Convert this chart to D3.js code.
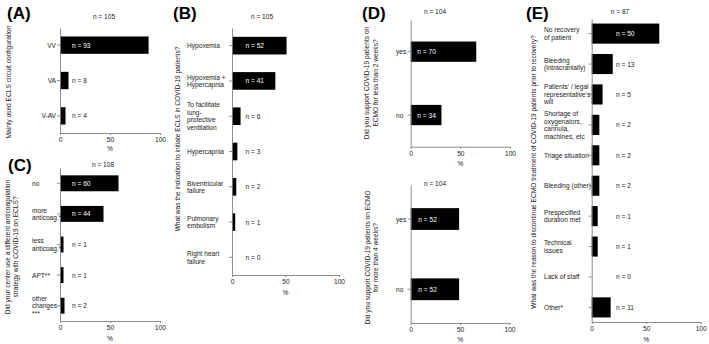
<!DOCTYPE html>
<html><head><meta charset="utf-8">
<script src="https://cdn.jsdelivr.net/npm/d3@7"></script>
<style>
body{margin:0;background:#fff;}
svg{display:block;font-family:"Liberation Sans",Arial,sans-serif;}
</style></head><body>
<svg id="chart" width="709" height="344"></svg>
<script>
// ---------- DATA ----------
const xTickValues = [0, 50, 100];

const aCategories = ["VV", "VA", "V-AV"];
const aCounts = [93, 8, 4];
const aPercent = [88.6, 8.5, 5.5];
const aTotal = 105;

const bCategories = ["Hypoxemia", "Hypoxemia +\nHypercapnia", "To facilitate\nlung-\nprotective\nventilation", "Hypercapnia", "Biventricular\nfailure", "Pulmonary\nembolism", "Right heart\nfailure"];
const bCounts = [52, 41, 6, 3, 2, 1, 0];
const bPercent = [51, 40.5, 8, 5, 4, 3, 0];
const bTotal = 105;

const cCategories = ["no", "more\nanticoag.*", "less\nanticoag.*", "APT**", "other\nchanges\n***"];
const cCounts = [60, 44, 1, 1, 2];
const cPercent = [58.5, 43.5, 3.5, 3.5, 4.5];
const cTotal = 108;

const d1Categories = ["yes", "no"];
const d1Counts = [70, 34];
const d1Percent = [66, 31];
const d1Total = 104;

const d2Categories = ["yes", "no"];
const d2Counts = [52, 52];
const d2Percent = [49, 49];
const d2Total = 104;

const eCategories = ["No recovery\nof patient", "Bleeding\n(intracranially)", "Patients' / legal\nrepresentative's\nwill", "Shortage of\noxygenators,\ncannula,\nmachines, etc", "Triage situation", "Bleeding (other)", "Prespecified\nduration met", "Technical\nissues", "Lack of staff", "Other*"];
const eCounts = [50, 13, 5, 2, 2, 2, 1, 1, 0, 11];
const ePercent = [62, 19.3, 10, 7, 7, 7, 5.5, 5.5, 0, 17.4];
const eTotal = 87;

const panelLetters = ["(A)", "(B)", "(C)", "(D)", "(E)"];

// ---------- LAYOUT ----------
const FS = 6.6, LH = 7.5;
const svg = d3.select("#chart");

const panels = [
  {cats: aCategories, counts: aCounts, pct: aPercent, total: aTotal,
   x0: 60, x1: 160, yTop: 28, yBot: 133, pi: 0.51, po: 0.24,
   labX: 56, labAnchor: "end", nOff: 12, nX: 104, nY: 16,
   title: ["Mainly used ECLS circuit configuration"], titleX: [8], titleY: 82, pctY: 148},
  {cats: bCategories, counts: bCounts, pct: bPercent, total: bTotal,
   x0: 232, x1: 339, yTop: 28, yBot: 275, pi: 0.5, po: 0.25,
   labX: 187, labAnchor: "start", nOff: 13.5, nX: 262, nY: 16,
   title: ["What was the indication to initiate ECLS in COVID-19 patients?"], titleX: [177], titleY: 139, pctY: 292},
  {cats: cCategories, counts: cCounts, pct: cPercent, total: cTotal,
   x0: 60, x1: 160, yTop: 168, yBot: 321, pi: 0.48, po: 0.24,
   labX: 32, labAnchor: "start", nOff: 12, nX: 103, nY: 164,
   title: ["Did your center use a different anticoagulation", "strategy with COVID-19 on ECLS?"], titleX: [7, 15.5], titleY: 247, pctY: 338},
  {cats: d1Categories, counts: d1Counts, pct: d1Percent, total: d1Total,
   x0: 410.7, x1: 510, yTop: 20, yBot: 146.7, pi: 0.68, po: 0.34,
   labX: 396, labAnchor: "start", nOff: 6.6, nX: 435, nY: 11,
   title: ["Did you support COVID-19 patients on", "ECMO for less than 2 weeks?"], titleX: [366.7, 375], titleY: 83, pctY: 163},
  {cats: d2Categories, counts: d2Counts, pct: d2Percent, total: d2Total,
   x0: 410.7, x1: 509.5, yTop: 185.3, yBot: 323, pi: 0.69, po: 0.325,
   labX: 396, labAnchor: "start", nOff: 7.6, nX: 435, nY: 183,
   title: ["Did you support COVID-19 patients on ECMO", "for more than 4 weeks?"], titleX: [367.3, 375.7], titleY: 257.5, pctY: 339.7},
  {cats: eCategories, counts: eCounts, pct: ePercent, total: eTotal,
   x0: 591.7, x1: 700.7, yTop: 19, yBot: 322, pi: 0.34, po: 0.15,
   labX: 544, labAnchor: "start", nOff: 24.3, nX: 620, nY: 11,
   title: ["What was the reason to discontinue ECMO treatment of COVID-19 patients prior to recovery?"], titleX: [533], titleY: 172, pctY: 339.3}
];

const letterPos = [[7, 19], [173, 19], [8, 171], [362, 19], [526, 19]];

panels.forEach(p => {
  const g = svg.append("g");
  const x = d3.scaleLinear().domain([0, 100]).range([p.x0, p.x1]);
  const y = d3.scaleBand().domain(p.cats).range([p.yTop, p.yBot]).paddingInner(p.pi).paddingOuter(p.po);

  // bars
  g.selectAll("rect.bar").data(p.cats).join("rect")
    .attr("x", x(0)).attr("y", d => y(d))
    .attr("width", (d, i) => x(p.pct[i]) - x(0))
    .attr("height", y.bandwidth()).attr("fill", "#000");

  // y axis
  const ya = g.append("g").attr("transform", `translate(${p.x0},0)`)
    .call(d3.axisLeft(y).tickSize(3).tickSizeOuter(0).tickFormat(() => ""));
  ya.selectAll("path,line").attr("stroke", "#808080").attr("stroke-width", 0.9);

  // x axis
  const xa = g.append("g").attr("transform", `translate(0,${p.yBot})`)
    .call(d3.axisBottom(x).tickValues(xTickValues).tickSize(2).tickSizeOuter(0).tickPadding(2.5));
  xa.selectAll("path,line").attr("stroke", "#808080").attr("stroke-width", 0.9);
  xa.selectAll("text").attr("font-size", FS).attr("fill", "#222").attr("font-family", null);

  g.append("text").attr("x", x(50)).attr("y", p.pctY).attr("text-anchor", "middle")
    .attr("dominant-baseline", "central").attr("font-size", FS).attr("fill", "#222").text("%");

  // category labels
  p.cats.forEach(c => {
    const lines = c.split("\n");
    const cy = y(c) + y.bandwidth() / 2;
    const t = g.append("text").attr("text-anchor", p.labAnchor).attr("font-size", FS).attr("fill", "#222");
    lines.forEach((ln, k) => {
      t.append("tspan").attr("x", p.labX)
        .attr("y", cy + (k - (lines.length - 1) / 2) * LH)
        .attr("dominant-baseline", "central").text(ln);
    });
  });

  // n labels
  p.cats.forEach((c, i) => {
    const lx = p.x0 + p.nOff;
    const t = g.append("text").attr("x", lx).attr("y", y(c) + y.bandwidth() / 2)
      .attr("dominant-baseline", "central").attr("font-size", FS).text("n = " + p.counts[i]);
    const w = t.node().getComputedTextLength();
    t.attr("fill", (x(p.pct[i]) > lx + w) ? "#fff" : "#222");
  });

  // total
  g.append("text").attr("x", p.nX).attr("y", p.nY).attr("text-anchor", "middle")
    .attr("dominant-baseline", "central").attr("font-size", FS).attr("fill", "#222").text("n = " + p.total);

  // title
  p.title.forEach((ln, k) => {
    g.append("text").attr("transform", `translate(${p.titleX[k]},${p.titleY}) rotate(-90)`)
      .attr("text-anchor", "middle").attr("dominant-baseline", "central")
      .attr("font-size", FS).attr("fill", "#222").text(ln);
  });
});

panelLetters.forEach((L, i) => {
  svg.append("text").attr("x", letterPos[i][0]).attr("y", letterPos[i][1])
    .attr("font-size", 17).attr("font-weight", "bold").attr("fill", "#000").text(L);
});
</script>
</body></html>
